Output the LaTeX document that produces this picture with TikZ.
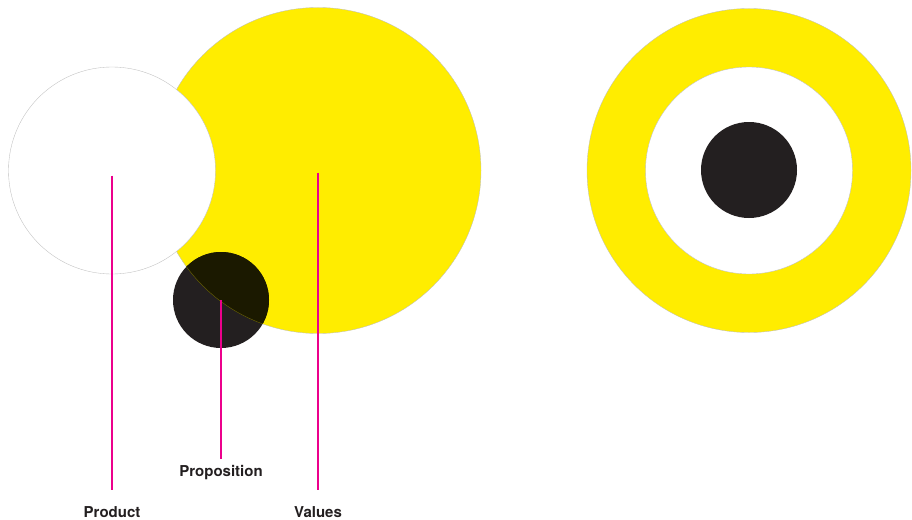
\documentclass[tikz,border=0pt]{standalone}
\usepackage{fontspec}
\setmainfont{TeX Gyre Heros}
\definecolor{Sun}{RGB}{255, 237, 0}
\definecolor{Ink}{RGB}{35, 31, 32}
\definecolor{Shade}{RGB}{27, 25, 0}
\definecolor{Rose}{RGB}{236, 0, 140}
\usetikzlibrary{positioning}

\begin{document}
\begin{tikzpicture}[
    x=1pt, y=-1pt,
    disc/.style={circle, inner sep=0pt, draw=black!25, line width=0.35pt},
    sun/.style={disc, fill=Sun},
    hole/.style={disc, fill=white},
    core/.style={circle, inner sep=0pt, fill=Ink, minimum size=96pt},
    lbl/.style={inner sep=0pt, anchor=base, text=Ink, font=\fontsize{15}{18}\selectfont\bfseries},
    leader/.style={draw=Rose, line width=1.3pt}
]
\useasboundingbox (0,0) rectangle (912,519);

% left diagram
\node[sun, minimum size=326pt] (values) at (318,170.5) {};
\node[hole, minimum size=207pt] (product) at (112,170.5) {};
\node[core] (proposition) at (221,300) {};
\begin{scope}
  \clip (values.center) circle[radius=163pt];
  \fill[Shade] (proposition.center) circle[radius=48pt];
\end{scope}
\begin{scope}
  \clip (proposition.center) circle[radius=48pt];
  \draw[Sun!45!black, line width=0.35pt] (values.center) circle[radius=163pt];
\end{scope}

\node[lbl] (productlbl) at (112,517) {Product};
\node[lbl] (propositionlbl) at (221,476.5) {Proposition};
\node[lbl] (valueslbl) at (318,517) {Values};

\draw[leader, shorten <=5pt, shorten >=16pt] (product.center) -- (productlbl.north);
\draw[leader, shorten >=6pt] (proposition.center) -- (propositionlbl.north);
\draw[leader, shorten <=2pt, shorten >=16pt] (values.center) -- (valueslbl.north);

% right diagram
\node[sun, minimum size=324pt] (ring) at (749,170.5) {};
\node[hole, minimum size=207pt] (gap) at (749,170.5) {};
\node[core] (centre) at (749,170) {};
\end{tikzpicture}
\end{document}
